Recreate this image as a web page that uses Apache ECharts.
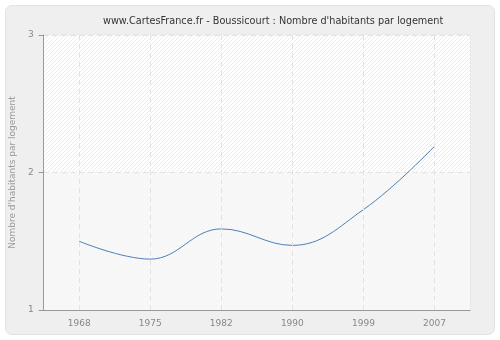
<!DOCTYPE html>
<html>
<head>
<meta charset="utf-8">
<script src="https://cdn.jsdelivr.net/npm/echarts@6/dist/echarts.min.js"></script>
<style>
html,body{margin:0;padding:0;background:#fff;}
#panel{position:absolute;left:5px;top:5px;width:488px;height:328px;background:#efefef;border:1px solid #e2e2e2;border-radius:7px;}
#chart{position:absolute;left:0;top:0;width:500px;height:340px;}
</style>
</head>
<body>
<div id="panel"></div>
<div id="chart"></div>
<script>
const years = ['1968','1975','1982','1990','1999','2007'];
const habitants = [1.50, 1.37, 1.59, 1.47, 1.73, 2.19];
const titleText = "www.CartesFrance.fr - Boussicourt : Nombre d'habitants par logement";
const yName = "Nombre d'habitants par logement";

function hatch(bg, line){
  const s = 4;
  const c = document.createElement('canvas');
  c.width = s; c.height = s;
  const g = c.getContext('2d');
  g.fillStyle = bg; g.fillRect(0,0,s,s);
  g.strokeStyle = line; g.lineWidth = 1;
  g.beginPath();
  g.moveTo(0,s); g.lineTo(s,0);
  g.moveTo(-s/2,s/2); g.lineTo(s/2,-s/2);
  g.moveTo(s/2,s*1.5); g.lineTo(s*1.5,s/2);
  g.stroke();
  return {image: c, repeat: 'repeat'};
}

const font = 'DejaVu Sans';
const chart = echarts.init(document.getElementById('chart'), null, {renderer:'canvas'});
chart.setOption({
  backgroundColor: 'transparent',
  animation: false,
  title: {
    text: titleText, left: 98, top: 11,
    textStyle: {fontFamily: font, fontSize: 9.7, fontWeight: 'normal', color: '#333'}
  },
  grid: {left: 40, right: 30, top: 35, bottom: 30, show: true, borderColor: '#e4e4e4', borderWidth: 1, backgroundColor: 'transparent'},
  xAxis: {
    type: 'category', data: years, boundaryGap: true,
    axisLine: {lineStyle: {color: '#999'}},
    axisTick: {alignWithLabel: true, length: 5, lineStyle: {color: '#999'}},
    axisLabel: {color: '#888', fontFamily: font, fontSize: 9, margin: 9},
    splitLine: {show: false}
  },
  yAxis: {
    type: 'value', min: 1, max: 3, interval: 1,
    name: yName, nameLocation: 'middle', nameGap: 26,
    nameTextStyle: {color: '#999', fontFamily: font, fontSize: 9},
    axisLine: {show: true, lineStyle: {color: '#999'}},
    axisTick: {show: true, length: 5, lineStyle: {color: '#999'}},
    axisLabel: {color: '#888', fontFamily: font, fontSize: 9, margin: 10},
    splitLine: {show: true, lineStyle: {color: '#e2e2e2', type: [5,4]}},
    splitArea: {show: true, areaStyle: {color: [hatch('#f6f6f6', '#fbfbfb'), hatch('#ffffff', '#ececec')]}}
  },
  series: [{
    type: 'line', data: habitants, smooth: 0.4, symbol: 'none',
    lineStyle: {color: '#4f7fb5', width: 1},
    markLine: {
      silent: true, symbol: 'none', label: {show: false},
      lineStyle: {color: '#e2e2e2', type: [5,4], width: 1},
      data: years.map(y => ({xAxis: y}))
    }
  }]
});
</script>
</body>
</html>
